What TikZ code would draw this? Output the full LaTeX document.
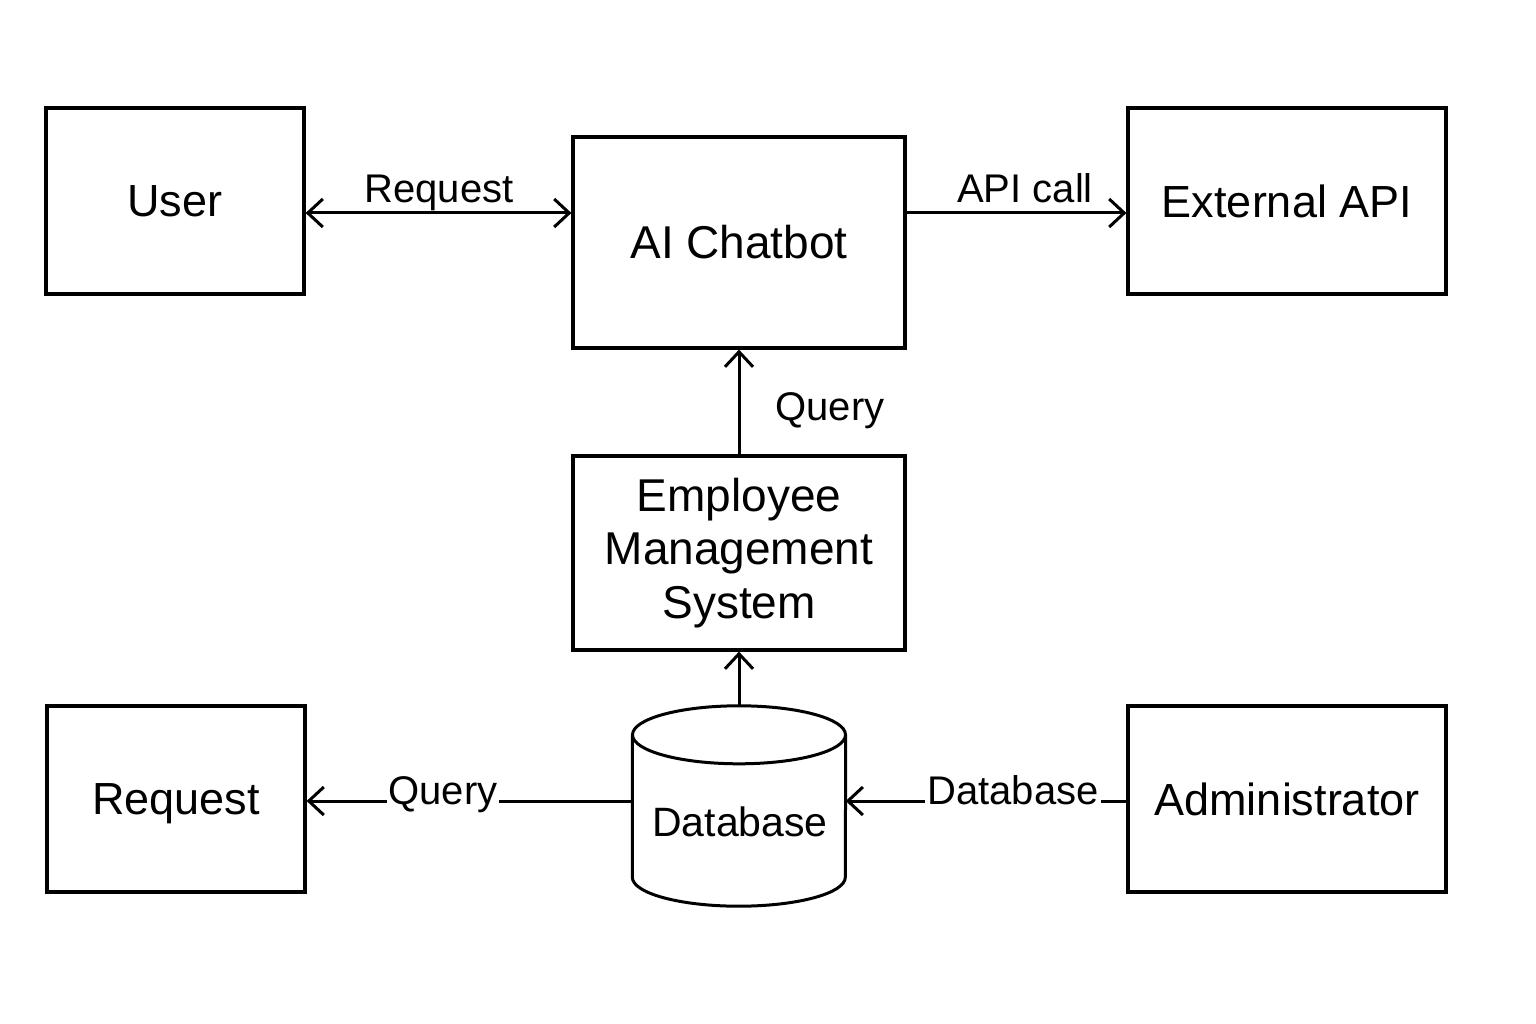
\documentclass[tikz,border=0pt]{standalone}
\usepackage{fontspec}
\setmainfont{Liberation Sans}
\usetikzlibrary{arrows.meta,calc}
\begin{document}
\begin{tikzpicture}[x=1pt,y=-1pt,
 box/.style={draw, line width=3.2pt, inner sep=0pt, font=\fontsize{45}{53.5}\selectfont, align=center},
 lbl/.style={font=\fontsize{40}{46}\selectfont, inner sep=2pt, anchor=base},
 conn/.style={line width=3pt, -{Straight Barb[length=15pt,width=28pt,line width=3pt]}},
 biconn/.style={line width=3pt, {Straight Barb[length=15pt,width=28pt,line width=3pt]}-{Straight Barb[length=15pt,width=28pt,line width=3pt]}},
]
\useasboundingbox (0,0) rectangle (1536,1024);
\fill[white] (0,0) rectangle (1536,1024);

\node[box, minimum width=258pt, minimum height=186pt] (user) at (175,201) {User};
\node[box, minimum width=332pt, minimum height=211pt, font=\fontsize{46}{53}\selectfont] (chat) at (739,242.5) {AI Chatbot};
\node[box, minimum width=318pt, minimum height=186pt] (ext) at (1287,201) {External API};
\node[box, minimum width=332pt, minimum height=194pt, font=\fontsize{46}{53.5}\selectfont] (ems) at (739,553) {Employee\\Management\\System};
\node[box, minimum width=258pt, minimum height=186pt, text depth=0pt] (req) at (176,799) {Request};
\node[box, minimum width=318pt, minimum height=186pt] (admin) at (1287,799) {Administrator};

% database cylinder
\node[minimum width=213pt, minimum height=200pt, inner sep=0pt] (db) at (739,806) {};
\draw[line width=3pt, fill=white] ($(db.north west)+(0,29)$) -- ($(db.south west)+(0,-29)$)
  arc[start angle=180, end angle=360, x radius=106.5pt, y radius=29pt] -- ($(db.north east)+(0,29)$);
\draw[line width=3pt] ($(db.north)+(0,29)$) ellipse [x radius=106.5pt, y radius=29pt];
\node[font=\fontsize{41}{48}\selectfont, inner sep=0pt] (dbtext) at (740,822) {Database};

% connectors
\coordinate (u1) at ([yshift=-12pt]user.east);
\draw[biconn] (u1) -- (u1 -| chat.west);
\draw[conn] (u1 -| chat.east) -- (u1 -| ext.west);
\draw[conn] (ems.north) -- (chat.south);
\draw[conn] (db.north) -- (ems.south);
\coordinate (d1) at ([yshift=-2pt]db.west |- req.east);
\draw[conn] (d1) -- (d1 -| req.east);
\draw[conn] (d1 -| admin.west) -- (d1 -| db.east);

% labels
\node[lbl] (lreq) at (439,203) {Request};
\node[lbl] (lapi) at (1025,203) {API call};
\node[lbl] (lq1) at (830,420) {Query};
\node[lbl, fill=white] (lq2) at (443,804) {Query};
\node[lbl, fill=white] (ldb) at (1013,804) {Database};
\end{tikzpicture}
\end{document}
